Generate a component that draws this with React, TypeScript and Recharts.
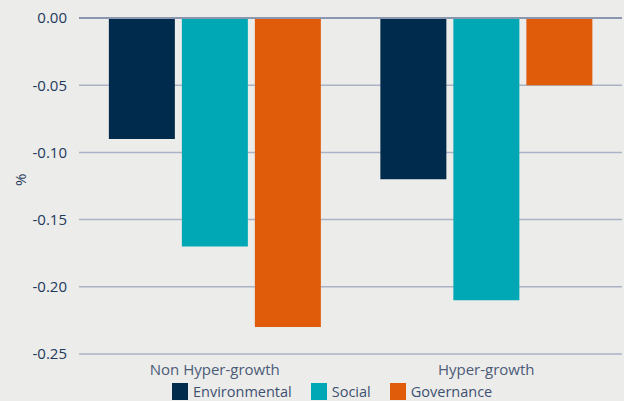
import React from 'react';
import { BarChart, Bar, XAxis, YAxis, CartesianGrid, Legend, ReferenceLine } from 'recharts';

const categories = ['Non Hyper-growth', 'Hyper-growth'];
const environmental = [-0.09, -0.12];
const social = [-0.17, -0.21];
const governance = [-0.23, -0.05];
const yTicks = [0, -0.05, -0.1, -0.15, -0.2, -0.25];

const series = [
  { key: 'Environmental', color: '#002b4c', values: environmental },
  { key: 'Social', color: '#00a8b5', values: social },
  { key: 'Governance', color: '#e05c0b', values: governance },
];

const data = categories.map((name, i) => {
  const row: Record<string, string | number> = { name };
  series.forEach(s => { row[s.key] = s.values[i]; });
  return row;
});

const FONT = '"Open Sans", sans-serif';

function LegendContent() {
  return (
    <div style={{ display: 'flex', paddingLeft: 172, paddingTop: 1, height: 22, fontFamily: FONT, fontSize: 14.5, color: '#3e5070' }}>
      {series.map(s => (
        <div key={s.key} style={{ display: 'flex', alignItems: 'center', marginRight: 19 }}>
          <span style={{ display: 'inline-block', width: 16, height: 17, background: s.color, marginRight: 5 }} />
          <span>{s.key}</span>
        </div>
      ))}
    </div>
  );
}

export default function App() {
  return (
    <div style={{ position: 'fixed', top: 0, left: 0, width: 624, height: 401, background: '#ececea', overflow: 'hidden' }}>
      <BarChart width={624} height={401} data={data} margin={{ top: 18, right: 2, left: 0, bottom: 0 }}
        barCategoryGap="11%" barGap={7}>
        <CartesianGrid vertical={false} stroke="#aab3c6" strokeWidth={1.5} />
        <XAxis dataKey="name" axisLine={false} tickLine={false} height={25} tickMargin={4}
          tick={{ fill: '#4b5b78', fontSize: 15, fontFamily: FONT }} />
        <YAxis domain={[-0.25, 0]} ticks={yTicks} width={79} axisLine={false} tickLine={false}
          tickFormatter={(v: number) => v.toFixed(2)} tickMargin={6}
          tick={{ fill: '#1e3a5c', fontSize: 15, fontFamily: FONT }}
          label={{ value: '%', angle: -90, position: 'insideLeft', offset: 21, fill: '#1e3a5c', fontSize: 15, fontFamily: FONT }} />
        <Legend verticalAlign="bottom" height={22} content={<LegendContent />} />
        {series.map(s => (
          <Bar key={s.key} dataKey={s.key} fill={s.color} isAnimationActive={false} />
        ))}
        <ReferenceLine y={0} stroke="#8a97ae" strokeWidth={2} />
      </BarChart>
    </div>
  );
}
